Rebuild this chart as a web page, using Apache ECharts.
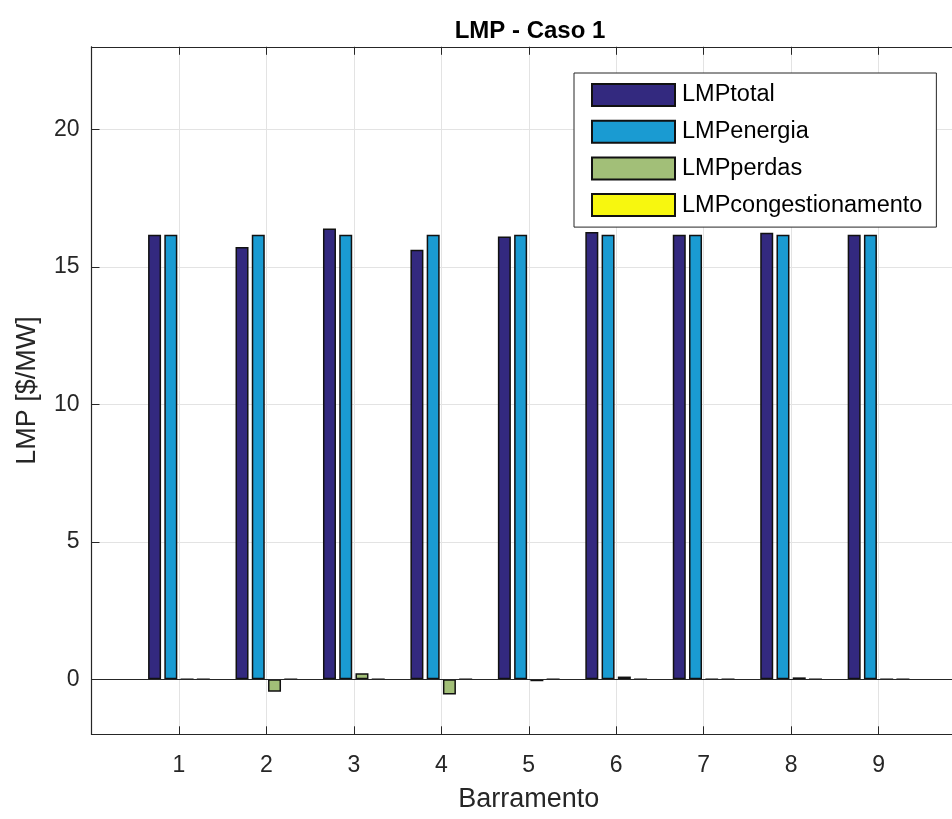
<!DOCTYPE html>
<html>
<head>
<meta charset="utf-8">
<script src="https://cdn.jsdelivr.net/npm/echarts@6/dist/echarts.min.js"></script>
<style>
html,body{margin:0;padding:0;background:#fff;}
#chart{width:952px;height:819px;}
</style>
</head>
<body>
<div id="chart"></div>
<script>
const categories = ['1', '2', '3', '4', '5', '6', '7', '8', '9'];
const lmpTotal = [16.17, 15.72, 16.39, 15.62, 16.10, 16.27, 16.17, 16.24, 16.17];
const lmpEnergia = [16.17, 16.17, 16.17, 16.17, 16.17, 16.17, 16.17, 16.17, 16.17];
const lmpPerdas = [0, -0.45, 0.22, -0.55, -0.07, 0.10, 0.01, 0.07, 0];
const lmpCongestionamento = [0, 0, 0, 0, 0, 0, 0, 0, 0];
const seriesNames = ['LMPtotal', 'LMPenergia', 'LMPperdas', 'LMPcongestionamento'];
const seriesColors = ['#33297f', '#1a9bd2', '#a2bf78', '#f7f70f'];
const titleText = 'LMP - Caso 1';
const xName = 'Barramento';
const yName = 'LMP [$/MW]';

const axisData = [''].concat(categories, ['']);
function pad(arr) { return [null].concat(arr, [null]); }
const allSeries = [lmpTotal, lmpEnergia, lmpPerdas, lmpCongestionamento];

const axisColor = '#262626';
const gridColor = '#e3e3e3';
const font = 'Liberation Sans, Arial, sans-serif';

const chart = echarts.init(document.getElementById('chart'), null, {renderer: 'canvas'});
const option = {
  backgroundColor: '#ffffff',
  animation: false,
  title: {
    text: titleText,
    left: 525,
    textAlign: 'center',
    top: 14,
    textStyle: {fontFamily: font, fontSize: 24, fontWeight: 'bold', color: '#000'}
  },
  legend: {
    orient: 'vertical',
    left: 574,
    top: 73,
    padding: [10, 14, 10, 17],
    itemWidth: 83,
    itemHeight: 22,
    itemGap: 12.7,
    backgroundColor: '#fff',
    borderColor: axisColor,
    borderWidth: 1,
    icon: 'rect',
    textStyle: {fontFamily: font, fontSize: 23.5, color: '#000', lineHeight: 22, padding: [0, 0, 0, 2]},
    data: seriesNames
  },
  grid: {left: 91.5, width: 874.5, top: 46.8, height: 687.5, containLabel: false, outerBoundsMode: 'none'},
  xAxis: [{
    type: 'category',
    data: axisData,
    boundaryGap: false,
    name: xName,
    nameLocation: 'middle',
    nameGap: 52,
    nameTextStyle: {fontFamily: font, fontSize: 27, color: axisColor},
    axisLine: {show: true, onZero: false, lineStyle: {color: axisColor, width: 1.2}},
    axisTick: {show: true, inside: true, length: 8, lineStyle: {color: axisColor}},
    axisLabel: {show: true, interval: 0, margin: 20, fontFamily: font, fontSize: 23, color: axisColor},
    splitLine: {show: true, lineStyle: {color: gridColor, width: 1}}
  }, {
    type: 'category',
    position: 'top',
    data: axisData,
    boundaryGap: false,
    axisLine: {show: true, onZero: false, lineStyle: {color: axisColor, width: 1.2}},
    axisTick: {show: true, inside: true, length: 8, lineStyle: {color: axisColor}},
    axisLabel: {show: false},
    splitLine: {show: false}
  }],
  yAxis: [{
    type: 'value',
    min: -2,
    max: 23,
    splitNumber: 5,
    name: yName,
    nameLocation: 'middle',
    nameGap: 50,
    nameTextStyle: {fontFamily: font, fontSize: 27, color: axisColor},
    axisLine: {show: true, lineStyle: {color: axisColor, width: 1.2}},
    axisTick: {show: true, inside: true, length: 8, lineStyle: {color: axisColor}},
    axisLabel: {show: true, margin: 12, fontFamily: font, fontSize: 23, color: axisColor,
      showMinLabel: false, showMaxLabel: false},
    splitLine: {show: true, lineStyle: {color: gridColor, width: 1}}
  }],
  series: allSeries.map(function (vals, i) {
    const s = {
      name: seriesNames[i],
      type: 'bar',
      xAxisIndex: 0,
      yAxisIndex: 0,
      data: pad(vals),
      barWidth: 13,
      barGap: '25%',
      itemStyle: {color: seriesColors[i], borderColor: '#111', borderWidth: 1.5},
      emphasis: {disabled: true}
    };
    if (i === 0) {
      s.markLine = {
        silent: true,
        symbol: 'none',
        label: {show: false},
        lineStyle: {color: axisColor, width: 1.2, type: 'solid'},
        data: [{yAxis: 0}]
      };
    }
    return s;
  })
};
chart.setOption(option);
</script>
</body>
</html>
